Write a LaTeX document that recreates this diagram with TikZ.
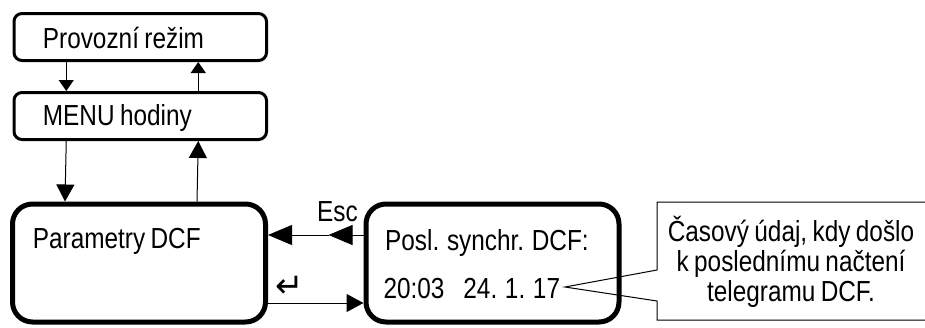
\documentclass[tikz,border=0pt]{standalone}
\usepackage{fontspec}
\setmainfont{Liberation Sans}[FakeStretch=0.84, WordSpace=0.8]
\newfontfamily\symfont{DejaVu Sans}
\usetikzlibrary{arrows.meta}

\begin{document}
\begin{tikzpicture}[x=1pt, y=-1pt, font=\fontsize{29}{30}\selectfont,
  smallbox/.style={draw, line width=3pt, rounded corners=8pt, minimum width=252.5pt, minimum height=47pt, inner sep=0pt},
  bigbox/.style={draw, line width=5pt, rounded corners=20pt, minimum width=253pt, minimum height=118pt, inner sep=0pt},
  txt/.style={anchor=base west, inner sep=0pt},
  arrS/.style={line width=1pt, -{Triangle[length=11pt, width=15pt]}},
  arrM/.style={line width=1pt, -{Triangle[length=17pt, width=18pt]}},
  arrL/.style={line width=1pt, -{Triangle[length=24pt, width=20pt]}}]
\clip (0,0) rectangle (925,327);
% Boxes
\node[smallbox] (prov) at (140.25,37) {};
\node[smallbox] (menu) at (140.25,116) {};
\node[bigbox] (param) at (139,263) {};
\node[bigbox] (posl) at (492.5,263) {};
\node[txt] (tprov) at (42.7,48.3) {Provozní režim};
\node[txt] (tmenu) at (42.7,125) {MENU hodiny};
\node[txt] (tparam) at (32.7,248) {Parametry DCF};
\node[txt] (tposl) at (385,250) {Posl. synchr. DCF:};
\node[txt] (tcas) at (383.3,298.3) {20:03\hspace{19pt}24. 1. 17};
% Vertical arrows
\foreach \a/\b/\tip in {prov/menu/arrS, menu/param/arrM} {
  \draw[\tip] ([xshift=-74pt]\a.south) -- ([xshift=-74pt]\b.north);
  \draw[\tip] ([xshift=58pt]\b.north) -- ([xshift=58pt]\a.south);
}
% Esc and Enter
\coordinate (escmid) at ([xshift=-35pt, yshift=28pt]posl.west);
\draw[arrL] ([yshift=28pt]posl.west) -- (escmid);
\draw[arrL] (escmid) -- (param.east |- escmid);
\node[txt] (esc) at (317,221) {Esc};
\draw[arrM] ([yshift=-40pt]param.east) -- ([yshift=-40pt]posl.west);
\node[inner sep=0pt, font=\symfont\fontsize{34}{36}\selectfont] (enter) at (290,287) {↵};
% Callout
\coordinate (tip) at (565,287);
\draw[line width=1pt] (657,270) -- (657,202) -- (935,202) -- (935,320) -- (657,320) -- (657,301) -- (tip) -- cycle;
\node[align=center, inner sep=0pt] (note) at (791,262) {Časový údaj, kdy došlo\\k poslednímu načtení\\telegramu DCF.};
\end{tikzpicture}
\end{document}
